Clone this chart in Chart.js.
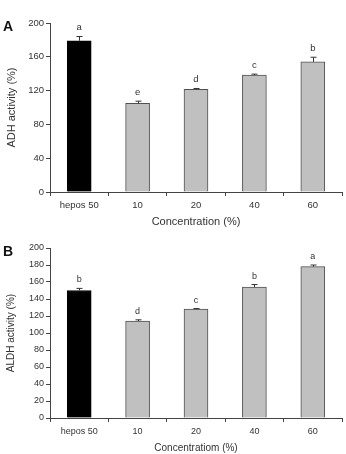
<!DOCTYPE html>
<html>
<head>
<meta charset="utf-8">
<script src="https://cdn.jsdelivr.net/npm/chart.js@4/dist/chart.umd.min.js"></script>
<style>
  html, body { margin: 0; padding: 0; background: #fff; }
  body { width: 346px; height: 454px; position: relative; overflow: hidden; font-family: "Liberation Sans", Arial, sans-serif; }
  canvas { position: absolute; left: 0; }
  #cA { top: 0; }
  #cB { top: 230px; }
  .panel { position: absolute; left: 3px; font-weight: bold; font-size: 14px; color: #111; }
</style>
</head>
<body>
<canvas id="cA" width="346" height="230"></canvas>
<canvas id="cB" width="346" height="224"></canvas>
<div class="panel" style="top:18px;">A</div>
<div class="panel" style="top:243px;">B</div>
<script>
const categories = ['hepos 50', '10', '20', '40', '60'];

const adhValues = [179, 105, 121.5, 138.5, 154];
const adhErrors = [5, 2.5, 1, 1, 5.5];
const adhLetters = ['a', 'e', 'd', 'c', 'b'];
const adhTickStep = 40;
const adhMax = 200;

const aldhValues = [150, 114, 128, 154, 178];
const aldhErrors = [2.5, 1.5, 0.8, 3, 2];
const aldhLetters = ['b', 'd', 'c', 'b', 'a'];
const aldhTickStep = 20;
const aldhMax = 200;

const TEXT = '#333';
const FONT = "'Liberation Sans', Arial, sans-serif";

const errorPlugin = {
  id: 'errLetters',
  afterDatasetsDraw(chart, args, opts) {
    const ctx = chart.ctx;
    const meta = chart.getDatasetMeta(0);
    const ys = chart.scales.y;
    const vals = chart.data.datasets[0].data;
    ctx.save();
    ctx.strokeStyle = '#333';
    ctx.lineWidth = 1;
    ctx.fillStyle = TEXT;
    ctx.font = opts.letterSize + 'px ' + FONT;
    ctx.textAlign = 'center';
    ctx.textBaseline = 'bottom';
    meta.data.forEach((bar, i) => {
      const x = Math.round(bar.x) + 0.5;
      const yTop = ys.getPixelForValue(vals[i]);
      const yErr = ys.getPixelForValue(vals[i] + opts.errors[i]);
      ctx.beginPath();
      ctx.moveTo(x, yTop);
      ctx.lineTo(x, yErr);
      ctx.moveTo(x - 3, yErr);
      ctx.lineTo(x + 3, yErr);
      ctx.stroke();
      ctx.fillText(opts.letters[i], bar.x, yErr - 4);
    });
    ctx.restore();
  }
};

function makeChart(id, values, errors, letters, step, max, cfg) {
  return new Chart(document.getElementById(id), {
    type: 'bar',
    data: {
      labels: categories,
      datasets: [{
        data: values,
        backgroundColor: values.map((v, i) => i === 0 ? '#000' : '#c0c0c0'),
        borderColor: values.map((v, i) => i === 0 ? '#000' : '#505050'),
        borderWidth: 1,
        barThickness: 24
      }]
    },
    options: {
      responsive: false,
      animation: false,
      devicePixelRatio: 1,
      layout: { padding: { top: cfg.top, right: 4, left: 0, bottom: 0 } },
      plugins: {
        legend: { display: false },
        tooltip: { enabled: false },
        errLetters: { errors: errors, letters: letters, letterSize: cfg.tick }
      },
      scales: {
        x: {
          offset: true,
          grid: { offset: true, drawOnChartArea: false, drawTicks: true, tickLength: 4, color: '#444' },
          border: { color: '#444', width: 1 },
          ticks: { color: TEXT, font: { family: FONT, size: cfg.tick }, padding: 4, maxRotation: 0 },
          title: { display: true, text: cfg.xTitle, color: TEXT, font: { family: FONT, size: cfg.title }, padding: { top: 0, bottom: cfg.xtb } },
          afterFit(s) { s.height = cfg.xh; }
        },
        y: {
          min: 0, max: max,
          grid: { drawOnChartArea: false, drawTicks: true, tickLength: 4, color: '#444' },
          border: { color: '#444', width: 1 },
          ticks: { stepSize: step, color: TEXT, font: { family: FONT, size: cfg.tick }, padding: 2 },
          title: { display: true, text: cfg.yTitle, color: TEXT, font: { family: FONT, size: cfg.title }, padding: { top: 5, bottom: 0 } },
          afterFit(s) { s.width = 50; }
        }
      }
    },
    plugins: [errorPlugin]
  });
}

makeChart('cA', adhValues, adhErrors, adhLetters, adhTickStep, adhMax,
  { top: 23, xh: 38, xtb: 1, tick: 9.5, title: 11, xTitle: 'Concentration (%)', yTitle: 'ADH activity (%)' });
makeChart('cB', aldhValues, aldhErrors, aldhLetters, aldhTickStep, aldhMax,
  { top: 18, xh: 36, xtb: 0, tick: 9, title: 10, xTitle: 'Concentratiom (%)', yTitle: 'ALDH activity (%)' });
</script>
</body>
</html>
